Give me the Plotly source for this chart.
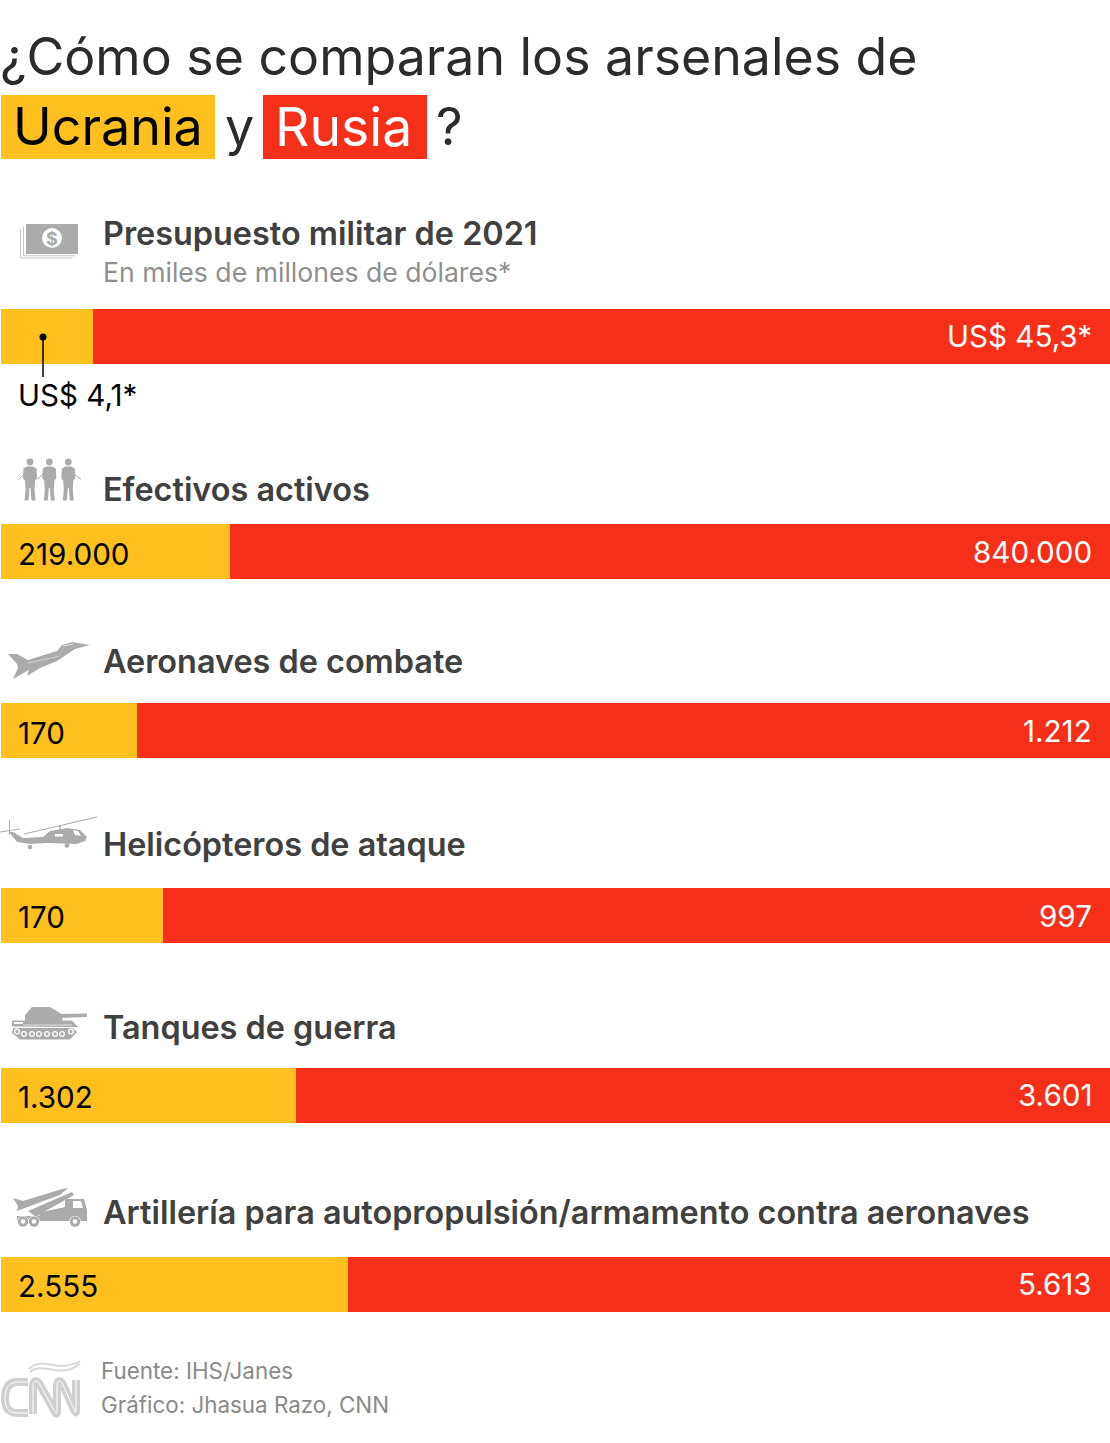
import plotly.graph_objects as go

# ---- data ----
categories = ["Presupuesto militar de 2021", "Efectivos activos", "Aeronaves de combate",
              "Helicópteros de ataque", "Tanques de guerra",
              "Artillería para autopropulsión/armamento contra aeronaves"]
ucrania = [4.1, 219000, 170, 170, 1302, 2555]
rusia = [45.3, 840000, 1212, 997, 3601, 5613]
ucrania_labels = ["US$ 4,1*", "219.000", "170", "170", "1.302", "2.555"]
rusia_labels = ["US$ 45,3*", "840.000", "1.212", "997", "3.601", "5.613"]

W, H = 1110, 1443
YELLOW, RED = "#FEC01E", "#F52F1A"
ICON = "#ABABAB"
FONT = "Inter"

bar_tops = [309, 524, 703, 888, 1068, 1257]
bar_h = 55
title_y = [233, 489, 661, 844, 1027, 1212]
uy = [394.5, 553.5, 732.5, 916.5, 1096.5, 1285.5]
ry = [335.5, 551.5, 730.5, 915.5, 1094.5, 1283.5]

fig = go.Figure()
for i, c in enumerate(categories):
    ya = "y" if i == 0 else f"y{i+1}"
    fig.add_trace(go.Bar(x=[ucrania[i]], y=[c], orientation="h", xaxis="x", yaxis=ya,
                         marker=dict(color=YELLOW, line_width=0), name="Ucrania", showlegend=False, hoverinfo="skip"))
    fig.add_trace(go.Bar(x=[rusia[i]], y=[c], orientation="h", xaxis="x", yaxis=ya,
                         marker=dict(color=RED, line_width=0), name="Rusia", showlegend=False, hoverinfo="skip"))

layout = dict(width=W, height=H, margin=dict(l=0, r=0, t=0, b=0), paper_bgcolor="white", plot_bgcolor="rgba(0,0,0,0)",
              barmode="stack", barnorm="percent", bargap=0, showlegend=False,
              xaxis=dict(domain=[1/W, 1], range=[0, 100], visible=False, fixedrange=True),
              font=dict(family=FONT))
for i, t in enumerate(bar_tops):
    key = "yaxis" if i == 0 else f"yaxis{i+1}"
    layout[key] = dict(domain=[1 - (t + bar_h)/H, 1 - t/H], visible=False, anchor="x", fixedrange=True)
# pixel overlay used for decoration and text
layout["xaxis2"] = dict(domain=[0, 1], range=[0, W], visible=False, anchor="y7", fixedrange=True)
layout["yaxis7"] = dict(domain=[0, 1], range=[H, 0], visible=False, anchor="x2", fixedrange=True)
fig.update_layout(**layout)
fig.add_trace(go.Scatter(x=[0], y=[0], xaxis="x2", yaxis="y7", mode="markers", marker=dict(opacity=0), hoverinfo="skip", showlegend=False))

def txt(s, x, y, size, color, anchor="left", weight=400):
    fig.add_annotation(text=s, x=x, y=y, xref="x2", yref="y7", xanchor=anchor, yanchor="middle", showarrow=False,
                       font=dict(size=size, color=color, family=FONT, weight=weight), borderpad=0, borderwidth=0)

def rect(x0, y0, x1, y1, color, line=None):
    fig.add_shape(type="rect", x0=x0, y0=y0, x1=x1, y1=y1, xref="x2", yref="y7", fillcolor=color,
                  line=dict(width=0) if line is None else dict(width=1, color=line))

def path(d, color=ICON):
    fig.add_shape(type="path", path=d, xref="x2", yref="y7", fillcolor=color, line=dict(width=0))

def stroke(d, color=ICON, width=1.5):
    fig.add_shape(type="path", path=d, xref="x2", yref="y7", fillcolor="rgba(0,0,0,0)", line=dict(width=width, color=color))

def circ(cx, cy, r, color=ICON):
    fig.add_shape(type="circle", x0=cx-r, x1=cx+r, y0=cy-r, y1=cy+r, xref="x2", yref="y7", fillcolor=color, line=dict(width=0))

# title
rect(1, 95, 215, 159, YELLOW)
rect(263, 95, 427, 159, RED)
txt("¿Cómo se comparan los arsenales de", 0, 56, 51.8, "#2B2B2B")
txt("Ucrania", 13, 126, 52, "#000000")
txt("y", 225, 126, 52, "#2B2B2B")
txt("Rusia", 275, 126, 53.5, "#FFFFFF")
txt("?", 436, 126, 52, "#2B2B2B")

# section titles
for c, y in zip(categories, title_y):
    txt(c, 103, y, 32.4, "#404040", weight=600)
txt("En miles de millones de dólares*", 103, 272, 26.6, "#8F8F8F")

# value labels
for i in range(6):
    txt(ucrania_labels[i], 18, uy[i], 29.6, "#000000")
    txt(rusia_labels[i], 1092, ry[i], 29.6, "#FFFFFF", anchor="right")

# leader
fig.add_shape(type="line", x0=43, x1=43, y0=337, y1=377, xref="x2", yref="y7", line=dict(color="#000000", width=1.5))
circ(43, 337, 3.5, "#000000")

# money
stroke("M20.5,229 L20.5,258 L72,258", "#C4C4C4", 1)
stroke("M23.5,227 L23.5,255.8 L75,255.8", "#C4C4C4", 1)
rect(26, 224, 78, 254, ICON)
circ(52, 238, 10, "#FFFFFF")
txt("$", 52, 238, 18, ICON, anchor="center", weight=700)

# soldiers
for cx in (30, 49.3, 68.3):
    circ(cx, 462, 3.4)
    path(f"M{cx-3},466.5 L{cx+3},466.5 L{cx+6.5},468.5 L{cx+7},478 L{cx+5},481 L{cx+4.5},490 L{cx+5.5},500.5 L{cx+1.5},500.5 L{cx+0.5},488 L{cx-0.5},488 L{cx-1.5},500.5 L{cx-5.5},500.5 L{cx-4.5},490 L{cx-5},481 L{cx-7},478 L{cx-6.5},468.5 Z")
stroke("M18.5,479.5 L25,473", ICON, 1)
stroke("M37.5,479.5 L44,473", ICON, 1)
stroke("M73,473 L81,479.5", ICON, 1)

# jet
path("M8,654 L17,654 L28,660 L57,651 L62,645 L72,642 L90,645 L75,649 L57,661 L40,668 L27,676 L29,670 L13,679 L18,668 L17,664 Z")
stroke("M28,663 L60,656", "#E4E4E4", 0.7)
stroke("M63,646 L73,644", "#FFFFFF", 0.7)

# helicopter
stroke("M24,834 L97,817", ICON, 1)
stroke("M0,832 L20,829", ICON, 1)
stroke("M9.5,820 L9.5,835", ICON, 1)
stroke("M60,825 L60,830", ICON, 1.5)
path("M9,832 L13,832 L23,838 L43,837 L50,831 L67,828 L80,830 L87,837 L85,841 L77,844 L47,843 L30,844 L17,842 Z")
rect(55, 834, 63, 836.5, "#FFFFFF")
path("M73,830 L78,831 L81,836 L75,835 Z", "#FFFFFF")
circ(30, 847, 2.3)
circ(67, 845.5, 2.3)

# tank
path("M58,1014 L87,1013.5 L87,1017 L58,1018 Z")
path("M32,1007 L50,1007 L60,1013 L63,1017 L62,1021 L25,1021 L25,1015 Z")
path("M12,1020.5 L72,1020.5 L78,1027 L12,1026.5 Z")
stroke("M23,1025 L72,1025", "#FFFFFF", 0.6)
rect(14, 1022, 23, 1024, "#FFFFFF")
path("M13.3,1028 L73,1028 L77,1032 L70,1039.5 L20,1039.5 L12,1033 Z")
for x, y in zip((17, 24, 32, 39, 47, 55, 62, 71), (1031.5, 1034, 1034, 1034, 1034, 1034, 1034, 1031.5)):
    circ(x, y, 3, "#FFFFFF")
    circ(x, y, 1.7, ICON)

# rocket truck
path("M13,1198 L23,1201 L62,1189 L68,1188 L60,1195 L30,1206 L17,1211 L18,1206 Z")
path("M28,1211 L72,1192 L74,1195 L42,1213 L36,1217 Z")
path("M42,1212 L65,1207 L65,1217 L38,1217 Z")
path("M65,1199 L84,1199 L87,1210 L87,1218 L65,1218 Z")
path("M73,1201 L81,1201 L83,1208 L73,1208 Z", "#FFFFFF")
path("M17,1216 L87,1216 L87,1221 L17,1221 Z")
for x in (23, 34, 75):
    circ(x, 1221.5, 5.8, "#FFFFFF")
    circ(x, 1221.5, 5.2, ICON)
    circ(x, 1221.5, 2.3, "#FFFFFF")

# CNN logo
LOGO = "#D0D0D0"
d = "M28,1382 L18,1382 C8,1382 5,1389 5,1398 C5,1407 8,1413 18,1413 L28,1413 M33,1414 L33,1385 C33,1380 38,1380 40,1385 L54,1410 C57,1416 57,1414 57,1408 L57,1385 C57,1380 61,1380 63,1385 L73,1407 C76,1414 76,1414 76,1408 L76,1380"
stroke(d, LOGO, 8)
stroke(d, "#FFFFFF", 1)
stroke("M29,1369 C37,1360 50,1365 60,1366 C68,1366 75,1364 80,1361", "#D8D8D8", 2)
stroke("M30,1372 C38,1365 50,1370 60,1370.5 C68,1371 75,1368 80,1363", "#D8D8D8", 2)

# source
txt("Fuente: IHS/Janes", 101, 1370.5, 22.4, "#8A8A8A")
txt("Gráfico: Jhasua Razo, CNN", 101, 1404.5, 22.4, "#8A8A8A")

fig.write_html("out.html", post_script="document.body.style.margin='0';document.body.style.overflow='hidden';", config=dict(displayModeBar=False))
